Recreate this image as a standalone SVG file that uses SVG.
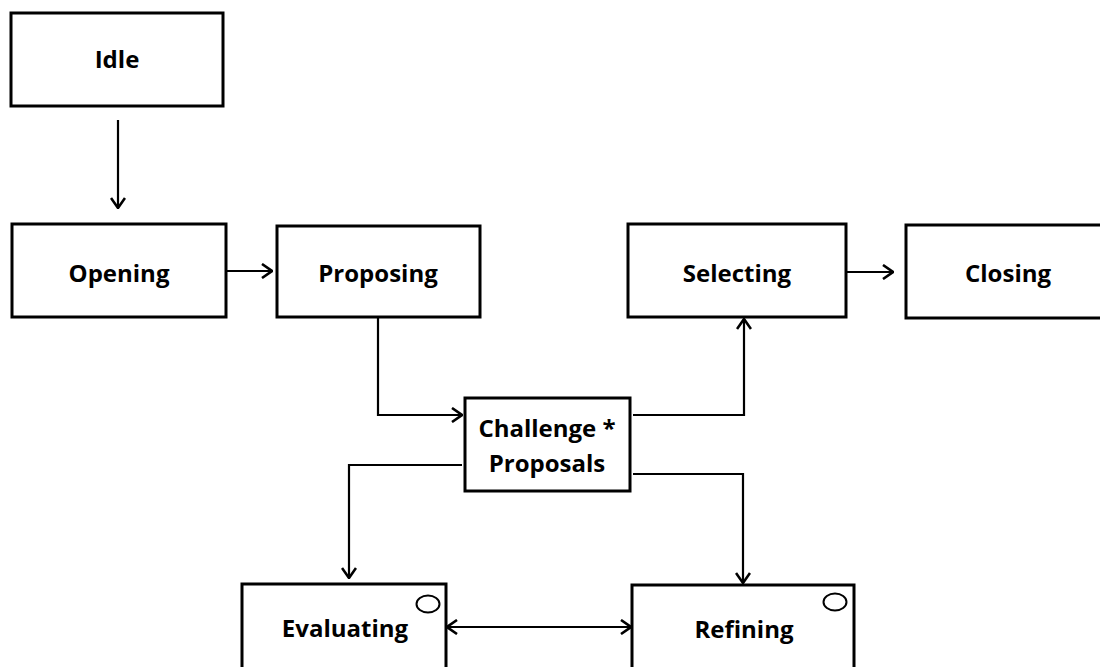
<svg xmlns="http://www.w3.org/2000/svg" width="1100" height="667" viewBox="0 0 1100 667">
  <defs>
    <style>
      .box { fill: #ffffff; stroke: #000000; stroke-width: 3; }
      .lbl { font-family: "Open Sans", "Liberation Sans", sans-serif; font-weight: 700; font-size: 24px; fill: #000000; text-anchor: middle; }
      .edge { fill: none; stroke: #000000; stroke-width: 2.2; }
      .dot { fill: #ffffff; stroke: #000000; stroke-width: 2; }
    </style>
    <marker id="arrow" viewBox="0 0 12 16" refX="11" refY="8" markerWidth="12" markerHeight="16" markerUnits="userSpaceOnUse" orient="auto-start-reverse">
      <path d="M1,1 L11,8 L1,15" fill="none" stroke="#000000" stroke-width="2.6" stroke-linejoin="miter"/>
    </marker>
  </defs>
  <rect width="1100" height="667" fill="#ffffff"/>

  <g id="connectors">
    <line class="edge" x1="118" y1="120" x2="118" y2="208" marker-end="url(#arrow)"/>
    <line class="edge" x1="227" y1="271" x2="272" y2="271" marker-end="url(#arrow)"/>
    <line class="edge" x1="847" y1="272" x2="893" y2="272" marker-end="url(#arrow)"/>
    <polyline class="edge" points="378,318 378,415 462,415" marker-end="url(#arrow)"/>
    <polyline class="edge" points="633,415 744,415 744,319" marker-end="url(#arrow)"/>
    <polyline class="edge" points="462,465 349,465 349,578" marker-end="url(#arrow)"/>
    <polyline class="edge" points="633,474 743,474 743,583" marker-end="url(#arrow)"/>
    <line class="edge" x1="447" y1="627" x2="631" y2="627" marker-start="url(#arrow)" marker-end="url(#arrow)"/>
  </g>

  <g id="idle">
    <rect class="box" x="11" y="13" width="212" height="93"/>
    <text class="lbl" x="117" y="68">Idle</text>
  </g>
  <g id="opening">
    <rect class="box" x="12" y="224" width="214" height="93"/>
    <text class="lbl" x="119" y="282">Opening</text>
  </g>
  <g id="proposing">
    <rect class="box" x="277" y="226" width="203" height="91"/>
    <text class="lbl" x="378" y="282">Proposing</text>
  </g>
  <g id="selecting">
    <rect class="box" x="628" y="224" width="218" height="93"/>
    <text class="lbl" x="737" y="282">Selecting</text>
  </g>
  <g id="closing">
    <rect class="box" x="906" y="225" width="204" height="93"/>
    <text class="lbl" x="1008" y="282">Closing</text>
  </g>
  <g id="challenge-proposals">
    <rect class="box" x="465" y="398" width="165" height="93"/>
    <text class="lbl" x="547" y="437">Challenge *</text>
    <text class="lbl" x="547" y="472">Proposals</text>
  </g>
  <g id="evaluating">
    <rect class="box" x="242" y="584" width="204" height="93"/>
    <ellipse class="dot" cx="428" cy="604" rx="11.5" ry="8.5"/>
    <text class="lbl" x="345" y="637">Evaluating</text>
  </g>
  <g id="refining">
    <rect class="box" x="632" y="585" width="222" height="93"/>
    <ellipse class="dot" cx="835" cy="602" rx="11.5" ry="8.5"/>
    <text class="lbl" x="744" y="638">Refining</text>
  </g>
</svg>
